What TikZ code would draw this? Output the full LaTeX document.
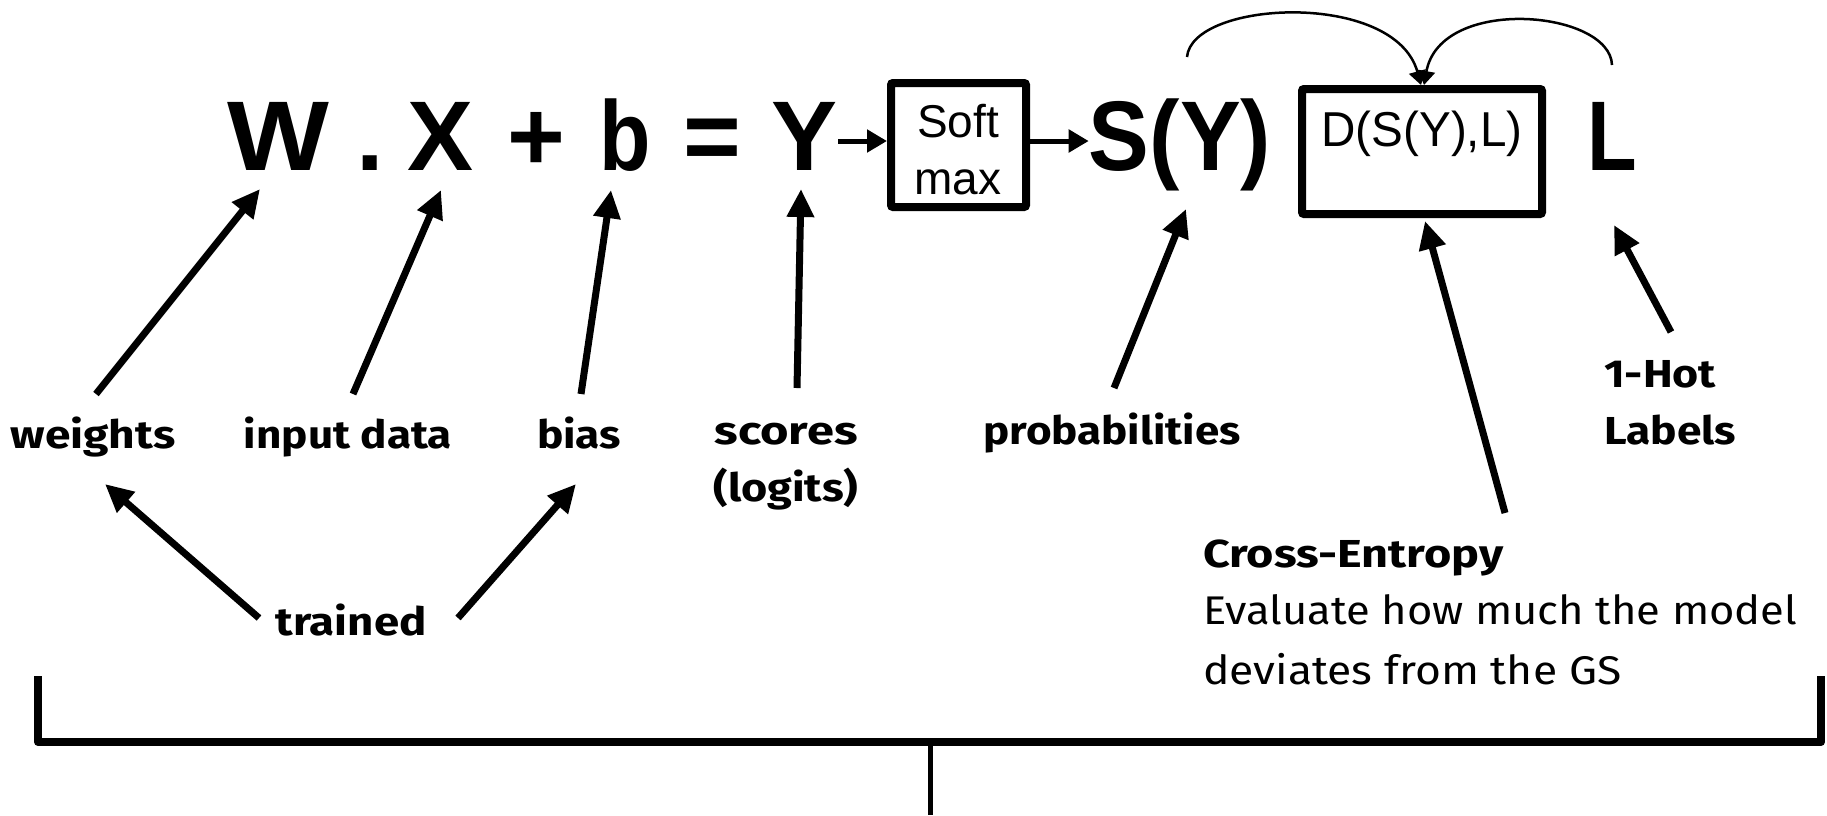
\documentclass[tikz,border=0pt]{standalone}
\usepackage{fontspec}
\usepackage{graphicx}
\usetikzlibrary{arrows.meta}
\setmainfont{Liberation Sans}
\newfontfamily\eqfont{Liberation Sans}
\newfontfamily\lblfont{Fira Sans}
\newcommand\fitw[2]{\resizebox{#1}{\height}{#2}}
\begin{document}
\begin{tikzpicture}[x=1pt,y=-1pt,
  big/.style={font=\eqfont\bfseries\fontsize{99}{99}\selectfont, inner sep=0pt, anchor=base},
  boxtxt/.style={font=\eqfont\fontsize{46}{46}\selectfont, inner sep=0pt, anchor=base},
  lbl/.style={font=\lblfont\bfseries\fontsize{39}{39}\selectfont, inner sep=0pt, anchor=base},
  lblw/.style={lbl, anchor=base west},
  plain/.style={font=\lblfont\fontsize{40}{40}\selectfont, inner sep=0pt, anchor=base west},
  frame/.style={draw, line width=8pt, inner sep=0pt, rounded corners=2pt},
  arr/.style={line width=7pt, -{Triangle[length=28pt,width=26pt]}},
  arrsmall/.style={line width=5pt, -{Triangle[length=20pt,width=22pt]}},
  arrthin/.style={line width=2.5pt, -{Triangle[length=14pt,width=17pt]}},
  brace/.style={line width=8pt, line join=round}
]
\useasboundingbox (0,0) rectangle (1827,815);

% top equation
\node[big] (W) at (278,170) {\scalebox{1.09}[1]{W}};
\node[big] (dot) at (370,170) {.};
\node[big] (X) at (441,170) {X};
\node[big] (plus) at (536,170) {+};
\node[big] (b) at (625,170) {\scalebox{0.85}[1]{b}};
\node[big] (eq) at (712,170) {=};
\node[big] (Y) at (805,170) {Y};
\node[frame, minimum width=135pt, minimum height=124pt] (sm) at (958.5,145) {};
\node[boxtxt] (soft) at (958,137) {Soft};
\node[boxtxt] (max) at (958,194) {max};
\node[big] (SY) at (1180,170) {\scalebox{0.92}[1]{S(Y)}};
\node[frame, minimum width=240pt, minimum height=125pt] (D) at (1422,151.5) {};
\node[boxtxt, font=\eqfont\fontsize{49}{49}\selectfont] (Dtxt) at (1422,146) {\fitw{201pt}{D(S(Y),L)}};
\node[big] (L) at (1612,170) {\scalebox{0.82}[1]{L}};

\coordinate (mid) at (0,141);
\draw[arrsmall] (Y.east |- mid) -- (sm.west |- mid);
\draw[arrsmall] (sm.east |- mid) -- (SY.west |- mid);

% curved arrows into D
\coordinate (c1) at (1187,57);
\coordinate (c2) at (1612,65);
\draw[arrthin] (c1) .. controls (1192,0) and (1395,-10) .. ([xshift=-1pt]D.north);
\draw[arrthin] (c2) .. controls (1610,10) and (1440,-5) .. ([xshift=2pt]D.north);

% labels
\node[lbl] (weights) at (93,448) {\fitw{165pt}{weights}};
\node[lbl] (input) at (348,448) {\fitw{208pt}{input data}};
\node[lbl] (bias) at (579,448) {\fitw{84pt}{bias}};
\node[lbl] (scores) at (786,444) {\fitw{143pt}{scores}};
\node[lbl] (logits) at (786,501) {\fitw{145pt}{(logits)}};
\node[lbl] (prob) at (1112,444) {\fitw{257pt}{probabilities}};
\node[lblw] (hot) at (1604,387) {\fitw{112pt}{1-Hot}};
\node[lblw] (labels) at (1604,444) {\fitw{132pt}{Labels}};
\node[lbl] (trained) at (351,635) {\fitw{151pt}{trained}};
\node[lblw] (ce) at (1203,567) {\fitw{300pt}{Cross-Entropy}};
\node[plain] (ev1) at (1203,624) {\fitw{594pt}{Evaluate how much the model}};
\node[plain] (ev2) at (1203,684) {\fitw{418pt}{deviates from the GS}};

% arrows from labels
\coordinate (wT) at (96,394);   \coordinate (wH) at (260,189);
\coordinate (iT) at (353,394);  \coordinate (iH) at (441,190);
\coordinate (bT) at (581,394);  \coordinate (bH) at (611,190);
\coordinate (sT) at (797,388);  \coordinate (sH) at (801,189);
\coordinate (pT) at (1114,388); \coordinate (pH) at (1186,209);
\coordinate (cT) at (1505,513); \coordinate (cH) at (1425,221);
\coordinate (hT) at (1671,332); \coordinate (hH) at (1614,225);
\coordinate (t1T) at (259,618); \coordinate (t1H) at (105,484);
\coordinate (t2T) at (458,618); \coordinate (t2H) at (576,484);
\draw[arr] (wT) -- (wH);
\draw[arr] (iT) -- (iH);
\draw[arr] (bT) -- (bH);
\draw[arr] (sT) -- (sH);
\draw[arr] (pT) -- (pH);
\draw[arr] (cT) -- (cH);
\draw[arr] (hT) -- (hH);
\draw[arr] (t1T) -- (t1H);
\draw[arr] (t2T) -- (t2H);

% bracket
\coordinate (bl) at (38,676);
\coordinate (br) at (1821,676);
\coordinate (stem) at (930,742);
\coordinate (stemEnd) at (930,815);
\draw[brace] (bl) -- (38,742) -- (1821,742) -- (br);
\draw[line width=5pt] (stem) -- (stemEnd);
\end{tikzpicture}
\end{document}
